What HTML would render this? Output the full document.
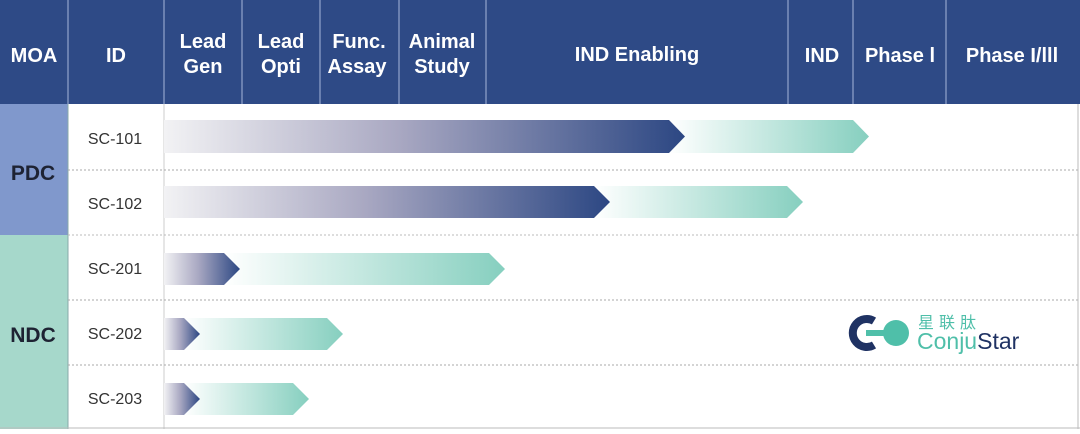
<!DOCTYPE html>
<html><head><meta charset="utf-8"><style>
body{margin:0;width:1080px;height:429px;overflow:hidden;background:#fff;font-family:"Liberation Sans","Noto Sans CJK SC",sans-serif}
</style></head><body>
<svg width="1080" height="429" viewBox="0 0 1080 429" xmlns="http://www.w3.org/2000/svg" font-family="Liberation Sans, Noto Sans CJK SC, sans-serif">
<defs>
<linearGradient id="dk" x1="0" x2="1" y1="0" y2="0"><stop offset="0" stop-color="#f2f2f4"/><stop offset="0.45" stop-color="#a9a8c2"/><stop offset="1" stop-color="#2c4783"/></linearGradient>
<linearGradient id="tl" x1="0" x2="1" y1="0" y2="0"><stop offset="0" stop-color="#ffffff"/><stop offset="1" stop-color="#86cfbf"/></linearGradient>
</defs>
<rect x="0" y="0" width="1080" height="104" fill="#2e4a86"/>
<g stroke="#7f93bf" stroke-width="1.5">
<line x1="68" y1="0" x2="68" y2="104"/><line x1="164" y1="0" x2="164" y2="104"/><line x1="242" y1="0" x2="242" y2="104"/><line x1="320" y1="0" x2="320" y2="104"/><line x1="399" y1="0" x2="399" y2="104"/><line x1="486" y1="0" x2="486" y2="104"/><line x1="788" y1="0" x2="788" y2="104"/><line x1="853" y1="0" x2="853" y2="104"/><line x1="946" y1="0" x2="946" y2="104"/>
</g>
<g fill="#fff" font-weight="bold" font-size="20" text-anchor="middle">
<text x="34" y="62">MOA</text><text x="116" y="62">ID</text>
<text x="203" y="48">Lead</text><text x="203" y="73">Gen</text>
<text x="281" y="48">Lead</text><text x="281" y="73">Opti</text>
<text x="359" y="48">Func.</text><text x="357" y="73">Assay</text>
<text x="442" y="48">Animal</text><text x="442" y="73">Study</text>
<text x="637" y="61">IND Enabling</text>
<text x="822" y="62">IND</text><text x="900" y="62">Phase l</text><text x="1012" y="62">Phase I/lll</text>
</g>
<rect x="0" y="104" width="68" height="131" fill="#8098cc"/>
<rect x="0" y="235" width="68" height="194" fill="#a6d8cb"/>
<line x1="68" y1="104" x2="68" y2="429" stroke="#8aa" stroke-width="1"/>
<line x1="164" y1="104" x2="164" y2="429" stroke="#ccc" stroke-width="1"/>
<g stroke="#aaa" stroke-dasharray="2,2" stroke-width="1">
<line x1="68" y1="170" x2="1078" y2="170"/><line x1="68" y1="300" x2="1078" y2="300"/><line x1="68" y1="365" x2="1078" y2="365"/>
</g>
<line x1="68" y1="235" x2="1078" y2="235" stroke="#bbb" stroke-dasharray="2,2"/>
<line x1="1078" y1="104" x2="1078" y2="429" stroke="#bbb"/>
<line x1="0" y1="428" x2="1080" y2="428" stroke="#bbb"/>
<g font-weight="bold" font-size="21" fill="#1e2333" text-anchor="middle"><text x="33" y="180">PDC</text><text x="33" y="342">NDC</text></g>
<g font-size="16" fill="#333" text-anchor="middle"><text x="115" y="144">SC-101</text><text x="115" y="209">SC-102</text><text x="115" y="274">SC-201</text><text x="115" y="339">SC-202</text><text x="115" y="404">SC-203</text></g>
<polygon points="669,120 853,120 869,136.5 853,153 669,153 685,136.5" fill="url(#tl)"/>
<polygon points="164,120 669,120 685,136.5 669,153 164,153" fill="url(#dk)"/>
<polygon points="594,186 787,186 803,202 787,218 594,218 610,202" fill="url(#tl)"/>
<polygon points="164,186 594,186 610,202 594,218 164,218" fill="url(#dk)"/>
<polygon points="224,253 489,253 505,269 489,285 224,285 240,269" fill="url(#tl)"/>
<polygon points="164,253 224,253 240,269 224,285 164,285" fill="url(#dk)"/>
<polygon points="184,318 327,318 343,334 327,350 184,350 200,334" fill="url(#tl)"/>
<polygon points="164,318 184,318 200,334 184,350 164,350" fill="url(#dk)"/>
<polygon points="184,383 293,383 309,399 293,415 184,415 200,399" fill="url(#tl)"/>
<polygon points="164,383 184,383 200,399 184,415 164,415" fill="url(#dk)"/>
<path d="M874,321 A14,14 0 1 0 874,345" fill="none" stroke="#1f3263" stroke-width="8"/>
<circle cx="896" cy="333" r="13" fill="#4fbfa9"/>
<rect x="866" y="330" width="20" height="6" fill="#4fbfa9"/>
<text x="918" y="328" font-size="16" fill="#4fbfa9" letter-spacing="5">星联肽</text>
<text x="917" y="349" font-size="23" fill="#4fbfa9">Conju<tspan fill="#1f3263">Star</tspan></text>
</svg>
</body></html>
